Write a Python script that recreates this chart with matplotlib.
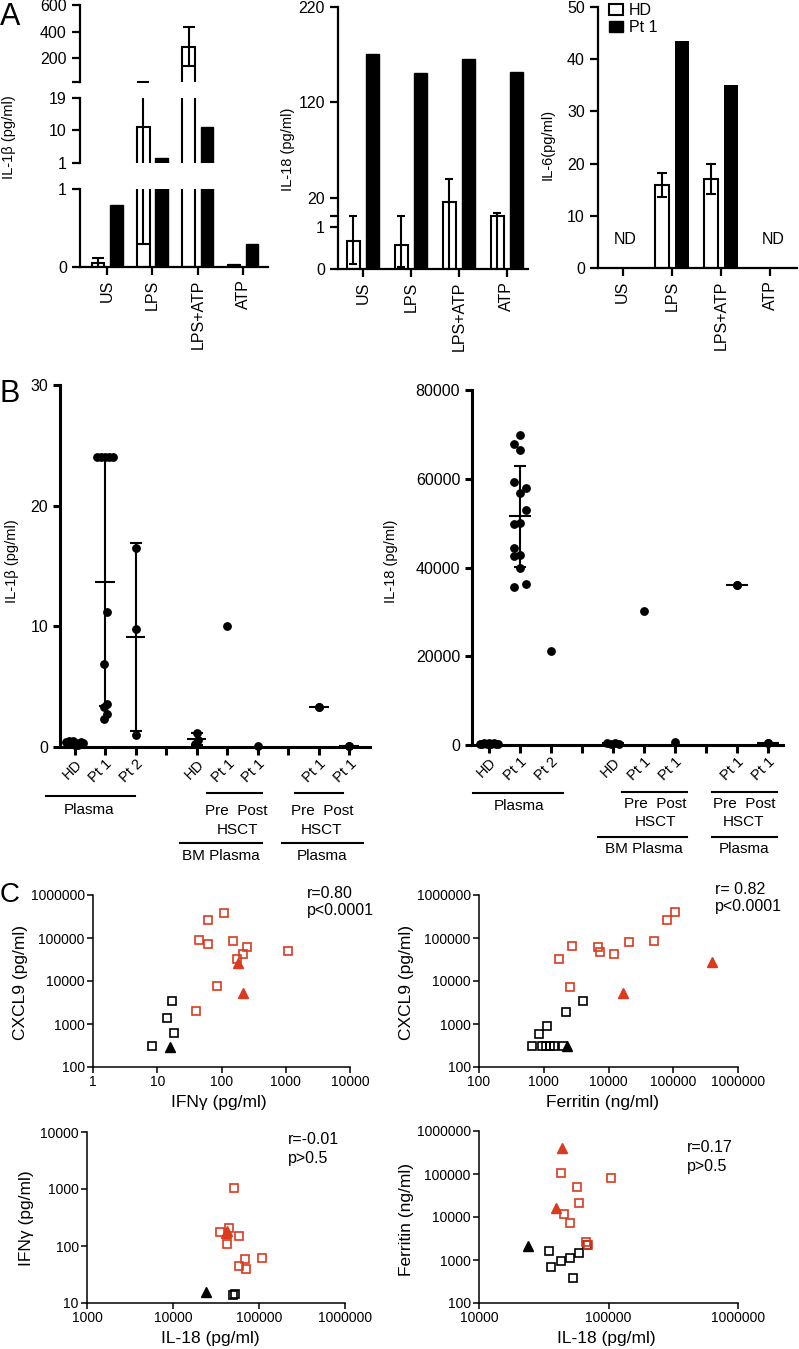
import numpy as np
import matplotlib
matplotlib.use('Agg')
import matplotlib.pyplot as plt
from matplotlib.patches import Patch
from matplotlib.lines import Line2D

plt.rcParams['font.family'] = ['Liberation Sans', 'DejaVu Sans']

# ---------------- data ----------------
stim = ['US', 'LPS', 'LPS+ATP', 'ATP']
il1b_hd = [0.05, 11.0, 285.0, 0.03]
il1b_hd_sd = [0.07, 10.7, 148.0, 0.0]
il1b_pt1 = [0.80, 2.3, 11.0, 0.30]
il18_hd = [0.67, 0.57, 16.0, 1.3]
il18_hd_sd = [0.55, 0.52, 24.0, 2.5]
il18_pt1 = [171.0, 151.0, 165.0, 152.0]
il6_hd = [np.nan, 15.9, 17.0, np.nan]
il6_hd_sd = [np.nan, 2.3, 2.9, np.nan]
il6_pt1 = [np.nan, 43.4, 35.0, np.nan]

b_labels = ['HD', 'Pt 1', 'Pt 2', '', 'HD', 'Pt 1', 'Pt 1', '', 'Pt 1', 'Pt 1']
b_il1b = [
    [0.45, 0.5, 0.3, 0.5, 0.35, 0.2, 0.4, 0.3, 0.15],
    [24, 24, 24, 24, 24, 11.2, 6.9, 3.6, 3.3, 2.7, 2.3],
    [16.5, 9.8, 1.0],
    [],
    [1.2, 0.25, 0.55],
    [10.0],
    [0.1],
    [],
    [3.3, 3.3],
    [0.1, 0.1],
]
b_il1b_dx = [
    [-0.28, -0.2, -0.12, -0.04, 0.04, 0.12, 0.2, 0.28, 0.0],
    [-0.26, -0.13, 0.0, 0.13, 0.26, 0.07, -0.05, 0.07, -0.05, 0.07, -0.05],
    [0.0, 0.0, 0.0],
    [],
    [0.0, -0.05, 0.05],
    [0.0],
    [0.0],
    [],
    [0.0, 0.0],
    [0.0, 0.0],
]
b_il18 = [
    [300, 200, 400, 150, 350, 250, 450, 300, 200],
    [69860, 67750, 66400, 59200, 58000, 56700, 53000, 49700, 50100,
     44500, 42600, 42800, 40000, 36300, 35500],
    [21180],
    [],
    [400, 250, 500, 300],
    [30100],
    [750],
    [],
    [36000, 36000],
    [500, 500],
]
b_il18_dx = [
    [-0.3, -0.22, -0.15, -0.07, 0.0, 0.07, 0.15, 0.22, 0.3],
    [0.0, -0.21, 0.0, -0.21, 0.19, 0.0, 0.19, -0.21, 0.0,
     -0.21, -0.21, 0.0, 0.0, 0.19, -0.21],
    [0.0],
    [],
    [-0.2, -0.07, 0.07, 0.2],
    [0.0],
    [0.0],
    [],
    [0.0, 0.0],
    [0.0, 0.0],
]

# Panel C: (x, y) pairs per marker group
c1_red_sq_x = [62, 109, 45, 61, 152, 246, 213, 173, 1070, 86, 40]
c1_red_sq_y = [263000, 380000, 89000, 71000, 85000, 63000, 41600, 32500, 50000, 7800, 1960]
c1_red_tri_x = [183, 218]
c1_red_tri_y = [25700, 5400]
c1_blk_sq_x = [16.8, 14.0, 18.4, 8.4]
c1_blk_sq_y = [3500, 1400, 630, 310]
c1_blk_tri_x = [15.8]
c1_blk_tri_y = [295]

c2_red_sq_x = [107000, 79000, 51000, 21000, 6900, 7400, 12000, 2700, 1740, 2560]
c2_red_sq_y = [410000, 263000, 87000, 82000, 61000, 48000, 41500, 66000, 32500, 7400]
c2_red_tri_x = [400000, 17000]
c2_red_tri_y = [27000, 5400]
c2_blk_sq_x = [4000, 2240, 1140, 850, 660, 930, 1070, 1260, 1440, 2000]
c2_blk_sq_y = [3500, 1950, 910, 600, 310, 310, 310, 310, 310, 310]
c2_blk_tri_x = [2300]
c2_blk_tri_y = [300]

c3_red_sq_x = [51000, 45000, 35000, 58000, 43000, 68000, 107000, 58000, 71000]
c3_red_sq_y = [1050, 210, 173, 150, 110, 59, 62, 44, 39]
c3_red_tri_x = [41000, 43000]
c3_red_tri_y = [170, 180]
c3_blk_sq_x = [50000, 52000]
c3_blk_sq_y = [13.8, 14.5]
c3_blk_tri_x = [24000]
c3_blk_tri_y = [15.4]

c4_red_sq_x = [43000, 105000, 57000, 59000, 45000, 50000, 67000, 69000]
c4_red_sq_y = [107000, 81000, 50000, 21000, 12000, 7300, 2640, 2200]
c4_red_tri_x = [43500, 39000]
c4_red_tri_y = [400000, 16000]
c4_blk_sq_x = [35000, 36000, 43000, 50000, 59000, 68000, 53000]
c4_blk_sq_y = [1630, 670, 950, 1120, 1470, 2200, 385]
c4_blk_tri_x = [23700]
c4_blk_tri_y = [2100]

# ---------------- layout helpers ----------------
W, H = 799, 1349
fig = plt.figure(figsize=(W / 100, H / 100), dpi=100)
RED = '#DB3A1F'


def rect(x0, y0, x1, y1):
    return [x0 / W, 1 - y1 / H, (x1 - x0) / W, (y1 - y0) / H]


def ftext(x, y, s, **kw):
    kw.setdefault('ha', 'center')
    kw.setdefault('va', 'center')
    fig.text(x / W, 1 - y / H, s, **kw)


def fline(x0, x1, y, lw=1.5):
    fig.add_artist(Line2D([x0 / W, x1 / W], [1 - y / H, 1 - y / H], lw=lw, color='k'))


def clean(ax, lw, bottom=True):
    ax.spines['top'].set_visible(False)
    ax.spines['right'].set_visible(False)
    ax.spines['left'].set_linewidth(lw)
    ax.spines['bottom'].set_linewidth(lw)
    if not bottom:
        ax.spines['bottom'].set_visible(False)
        ax.tick_params(axis='x', bottom=False, labelbottom=False)
    ax.set_facecolor('none')


# ---------------- Panel A ----------------
xA = np.arange(len(stim))
off, bw = 0.2, 0.28
lwA = 1.6
tickA = 11.5

# A1 broken axis (three segments)
segs = [((5, 82), (20, 600), [20, 200, 400, 600], ['', '200', '400', '600'], False),
        ((98, 163), (1, 19), [1, 10, 19], ['1', '10', '19'], False),
        ((189, 267), (0, 1), [0, 1], ['0', '1'], True)]
for (y0, y1), ylim, yt, ytl, has_x in segs:
    ax = fig.add_axes(rect(80, y0, 268, y1))
    ax.bar(xA - off, il1b_hd, bw, facecolor='white', edgecolor='k', lw=1.5, zorder=2)
    ax.bar(xA + off, il1b_pt1, bw, color='k', edgecolor='k', lw=1.0, zorder=2)
    ax.errorbar(xA - off, il1b_hd, yerr=il1b_hd_sd, fmt='none', ecolor='k',
                elinewidth=1.5, capsize=4.0, capthick=1.5, zorder=3)
    ax.set_ylim(*ylim)
    ax.set_xlim(-0.6, 3.55)
    ax.set_yticks(yt)
    ax.set_yticklabels(ytl)
    clean(ax, lwA, bottom=has_x)
    ax.tick_params(axis='y', width=lwA, length=6, labelsize=tickA)
    if has_x:
        ax.set_xticks(xA)
        ax.set_xticklabels(stim, rotation=90, fontsize=tickA)
        ax.tick_params(axis='x', width=lwA, length=5.5)
ftext(9, 137, 'IL-1β (pg/ml)', rotation=90, fontsize=10.5)


# A2 with a piecewise scale (0-1 | 1-220)
def f_fwd(v):
    v = np.asarray(v, dtype=float)
    return np.where(v <= 1, v * 42.0, 53.0 + (v - 1) * 209.0 / 219.0)


def f_inv(u):
    u = np.asarray(u, dtype=float)
    return np.where(u <= 42, u / 42.0, np.where(u <= 53, 1.0, 1 + (u - 53) * 219.0 / 209.0))


ax = fig.add_axes(rect(338, 7, 528, 269))
ax.set_yscale('function', functions=(f_fwd, f_inv))
ax.bar(xA - off, il18_hd, bw, facecolor='white', edgecolor='k', lw=1.5, zorder=2)
ax.bar(xA + off, il18_pt1, bw, color='k', edgecolor='k', lw=1.0, zorder=2)
ax.errorbar(xA - off, il18_hd, yerr=il18_hd_sd, fmt='none', ecolor='k',
            elinewidth=1.5, capsize=2.8, capthick=1.5, zorder=3)
ax.set_ylim(0, 220)
ax.set_xlim(-0.52, 3.44)
ax.set_yticks([0, 1, 20, 120, 220])
ax.set_yticklabels(['0', '1', '20', '120', '220'])
ax.set_yticks([1.0005], minor=True)
clean(ax, lwA)
ax.tick_params(axis='y', which='both', width=lwA, length=6, labelsize=tickA)
ax.set_xticks(xA)
ax.set_xticklabels(stim, rotation=90, fontsize=tickA)
ax.tick_params(axis='x', width=lwA, length=5.5)
ftext(288, 149, 'IL-18 (pg/ml)', rotation=90, fontsize=10.5)

# A3
ax = fig.add_axes(rect(598, 7, 797, 268))
hd6 = np.array(il6_hd)
pt6 = np.array(il6_pt1)
ax.bar(xA - off, np.nan_to_num(hd6), bw, facecolor='white',
       edgecolor=['k' if not np.isnan(v) else 'none' for v in hd6], lw=1.5, zorder=2)
ax.bar(xA + off, np.nan_to_num(pt6), bw, color='k', lw=0, zorder=2)
ax.errorbar(xA - off, hd6, yerr=il6_hd_sd, fmt='none', ecolor='k',
            elinewidth=1.5, capsize=3.3, capthick=1.5, zorder=3)
for i, v in enumerate(hd6):
    if np.isnan(v):
        ax.text(xA[i] + 0.05, 5.4, 'ND', ha='center', va='center', fontsize=11.5)
ax.set_ylim(0, 50)
ax.set_xlim(-0.5, 3.54)
ax.set_yticks([0, 10, 20, 30, 40, 50])
clean(ax, lwA)
ax.tick_params(axis='y', width=lwA, length=6, labelsize=tickA)
ax.set_xticks(xA)
ax.set_xticklabels(stim, rotation=90, fontsize=tickA)
ax.tick_params(axis='x', width=lwA, length=5.5)
handles = [Patch(facecolor='white', edgecolor='k', lw=1.5, label='HD'),
           Patch(facecolor='k', edgecolor='k', label='Pt 1')]
ax.legend(handles=handles, loc='upper left', bbox_to_anchor=(0.055, 1.015), frameon=False,
          fontsize=11.5, handlelength=0.85, handleheight=0.7, handletextpad=0.4,
          labelspacing=0.15, borderpad=0, borderaxespad=0)
ftext(548, 144, 'IL-6(pg/ml)', rotation=90, fontsize=10.5)

# ---------------- Panel B ----------------
lwB = 2.2
xB = np.arange(len(b_labels))


def b_panel(rect_px, vals, dxs, xlim, ylim, yticks, mean_half, cap):
    ax = fig.add_axes(rect(*rect_px))
    for i, (v, dx) in enumerate(zip(vals, dxs)):
        if len(v) == 0:
            continue
        v = np.asarray(v, dtype=float)
        if len(v) > 1:
            m = v.mean()
            sd = v.std(ddof=1)
            ax.hlines(m, i - mean_half, i + mean_half, color='k', lw=1.5, zorder=2)
            if sd > 0:
                ax.errorbar(i, m, yerr=sd, fmt='none', ecolor='k', elinewidth=1.5,
                            capsize=cap, capthick=1.5, zorder=2)
        ax.plot(i + np.asarray(dx), v, 'o', color='k', ms=5.3, clip_on=False, zorder=3)
    ax.set_xlim(*xlim)
    ax.set_ylim(*ylim)
    ax.set_yticks(yticks)
    ax.set_xticks(xB)
    ax.set_xticklabels(b_labels, fontsize=10.5)
    plt.setp(ax.get_xticklabels(), rotation=45, ha='right', va='top', rotation_mode='anchor')
    clean(ax, lwB)
    ax.tick_params(axis='y', width=lwB, length=5, labelsize=11.5)
    ax.tick_params(axis='x', width=lwB, length=6, pad=1)
    return ax


b_panel((60, 385, 370, 747), b_il1b, b_il1b_dx, (-0.48, 9.68), (0, 30), [0, 10, 20, 30], 0.32, 4.5)
ftext(12, 561, 'IL-1β (pg/ml)', rotation=90, fontsize=10.5)
ax = b_panel((472, 390, 783, 745), b_il18, b_il18_dx, (-0.55, 9.48), (0, 80000),
             [0, 20000, 40000, 60000, 80000], 0.35, 4.3)
ftext(391, 561, 'IL-18 (pg/ml)', rotation=90, fontsize=10.5)

gfs = 11
# B1 group labels
fline(46, 135, 796)
ftext(89, 810, 'Plasma', fontsize=gfs)
fline(207, 262, 793)
ftext(236, 811, 'Pre  Post', fontsize=gfs)
ftext(237, 830, 'HSCT', fontsize=gfs)
fline(180, 262, 843)
ftext(221, 856, 'BM Plasma', fontsize=gfs)
fline(295, 343, 793)
ftext(322, 811, 'Pre  Post', fontsize=gfs)
ftext(322, 830, 'HSCT', fontsize=gfs)
fline(282, 363, 843)
ftext(322, 856, 'Plasma', fontsize=gfs)
# B2 group labels
fline(473, 563, 793)
ftext(519, 806, 'Plasma', fontsize=gfs)
fline(622, 687, 792)
ftext(655, 804, 'Pre  Post', fontsize=gfs)
ftext(655, 822, 'HSCT', fontsize=gfs)
fline(598, 687, 837)
ftext(644, 849, 'BM Plasma', fontsize=gfs)
fline(712, 777, 792)
ftext(744, 804, 'Pre  Post', fontsize=gfs)
ftext(744, 822, 'HSCT', fontsize=gfs)
fline(712, 777, 837)
ftext(744, 849, 'Plasma', fontsize=gfs)

# ---------------- Panel C ----------------
lwC = 1.1


def c_panel(rect_px, xlim, ylim, rsx, rsy, rtx, rty, bsx, bsy, btx, bty):
    ax = fig.add_axes(rect(*rect_px))
    ax.set_xscale('log')
    ax.set_yscale('log')
    ax.plot(bsx, bsy, 's', mfc='none', mec='k', ms=5.3, mew=1.2, clip_on=False, zorder=3)
    ax.plot(rsx, rsy, 's', mfc='none', mec=RED, ms=5.3, mew=1.2, clip_on=False, zorder=3)
    ax.plot(btx, bty, '^', color='k', ms=6.8, clip_on=False, zorder=4)
    ax.plot(rtx, rty, '^', color=RED, ms=6.8, clip_on=False, zorder=4)
    ax.set_xlim(*xlim)
    ax.set_ylim(*ylim)
    xt = 10.0 ** np.arange(np.log10(xlim[0]), np.log10(xlim[1]) + 0.5)
    yt = 10.0 ** np.arange(np.log10(ylim[0]), np.log10(ylim[1]) + 0.5)
    ax.set_xticks(xt)
    ax.set_xticklabels([str(int(round(t))) for t in xt])
    ax.set_yticks(yt)
    ax.set_yticklabels([str(int(round(t))) for t in yt])
    ax.minorticks_off()
    clean(ax, lwC)
    ax.tick_params(width=lwC, length=4, labelsize=10, pad=2)
    return ax


c_panel((93, 895, 350, 1067), (1, 1e4), (100, 1e6),
        c1_red_sq_x, c1_red_sq_y, c1_red_tri_x, c1_red_tri_y,
        c1_blk_sq_x, c1_blk_sq_y, c1_blk_tri_x, c1_blk_tri_y)
c_panel((479, 895, 738, 1067), (100, 1e6), (100, 1e6),
        c2_red_sq_x, c2_red_sq_y, c2_red_tri_x, c2_red_tri_y,
        c2_blk_sq_x, c2_blk_sq_y, c2_blk_tri_x, c2_blk_tri_y)
c_panel((87, 1132, 345, 1303), (1e3, 1e6), (10, 1e4),
        c3_red_sq_x, c3_red_sq_y, c3_red_tri_x, c3_red_tri_y,
        c3_blk_sq_x, c3_blk_sq_y, c3_blk_tri_x, c3_blk_tri_y)
c_panel((479, 1131, 738, 1303), (1e4, 1e6), (100, 1e6),
        c4_red_sq_x, c4_red_sq_y, c4_red_tri_x, c4_red_tri_y,
        c4_blk_sq_x, c4_blk_sq_y, c4_blk_tri_x, c4_blk_tri_y)

lfs = 12.5
ftext(21, 982, 'CXCL9 (pg/ml)', rotation=90, fontsize=lfs)
ftext(219, 1102, 'IFNγ (pg/ml)', fontsize=lfs)
ftext(407, 982, 'CXCL9 (pg/ml)', rotation=90, fontsize=lfs)
ftext(603, 1102, 'Ferritin (ng/ml)', fontsize=lfs)
ftext(27, 1218, 'IFNγ (pg/ml)', rotation=90, fontsize=lfs)
ftext(210, 1338, 'IL-18 (pg/ml)', fontsize=lfs)
ftext(407, 1220, 'Ferritin (ng/ml)', rotation=90, fontsize=lfs)
ftext(606, 1338, 'IL-18 (pg/ml)', fontsize=lfs)

sfs = 11.5
ftext(307, 893, 'r=0.80', ha='left', fontsize=sfs)
ftext(307, 910, 'p<0.0001', ha='left', fontsize=sfs)
ftext(715, 889, 'r= 0.82', ha='left', fontsize=sfs)
ftext(715, 907, 'p<0.0001', ha='left', fontsize=sfs)
ftext(288, 1140, 'r=-0.01', ha='left', fontsize=sfs)
ftext(288, 1158, 'p>0.5', ha='left', fontsize=sfs)
ftext(687, 1147, 'r=0.17', ha='left', fontsize=sfs)
ftext(687, 1166, 'p>0.5', ha='left', fontsize=sfs)

# panel letters
ftext(0, 2, 'A', ha='left', va='top', fontsize=22)
ftext(0, 379, 'B', ha='left', va='top', fontsize=22)
ftext(0, 882, 'C', ha='left', va='top', fontsize=20)

fig.savefig('out.png', dpi=100)
